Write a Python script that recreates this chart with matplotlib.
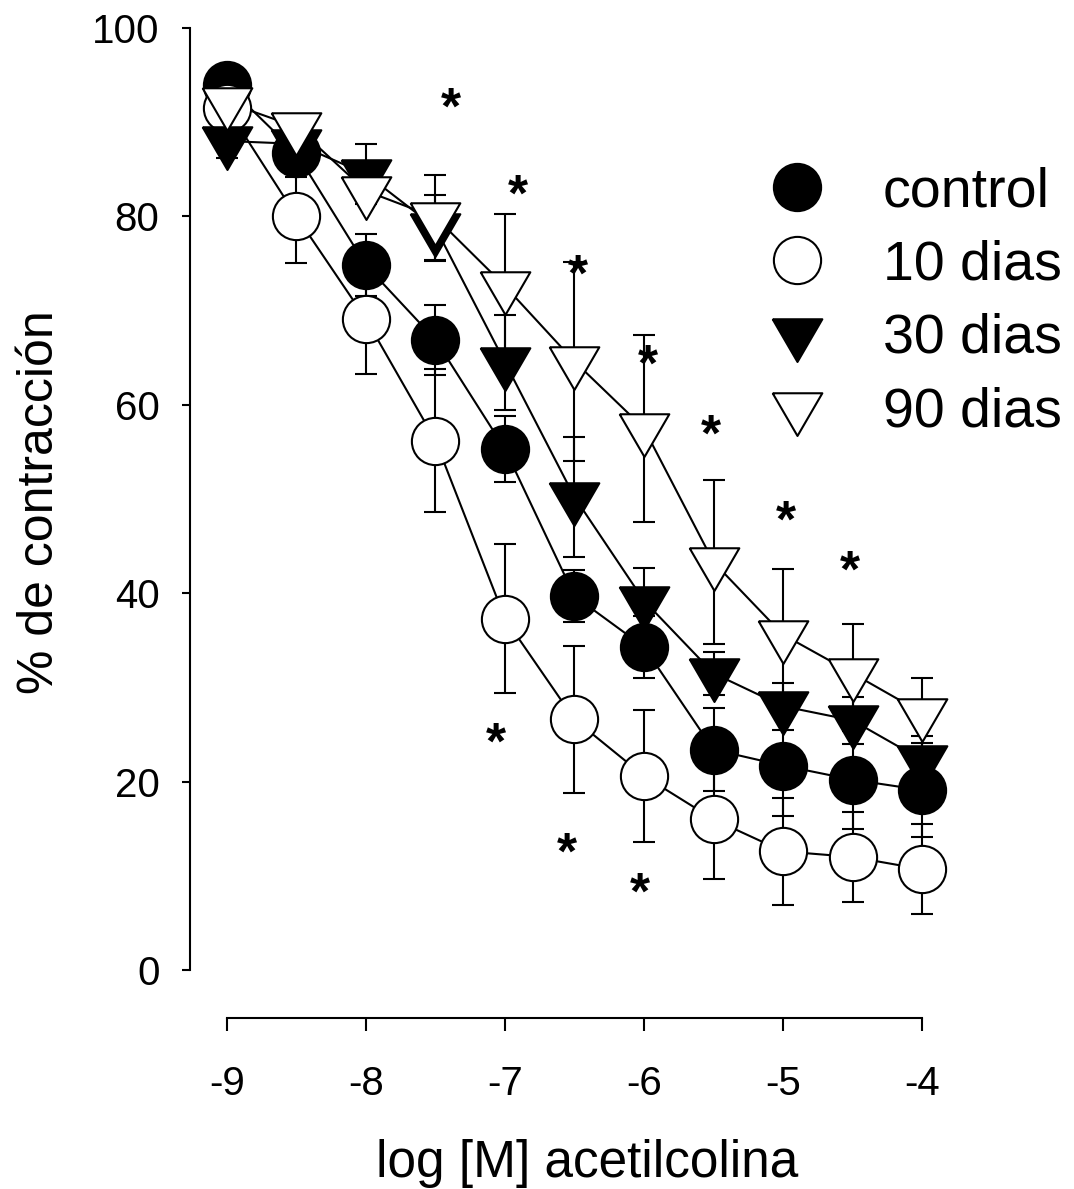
import numpy as np
import matplotlib
matplotlib.use("Agg")
from matplotlib import pyplot as plt
from matplotlib.lines import Line2D

plt.rcParams['font.family'] = ['Liberation Sans', 'DejaVu Sans']

# log [M] acetilcolina
log_conc = [-9, -8.5, -8, -7.5, -7, -6.5, -6, -5.5, -5, -4.5, -4]

control = [93.9, 86.7, 74.8, 66.9, 55.3, 39.7, 34.3, 23.4, 21.7, 20.2, 19.1]
control_err = [1.0, 2.5, 3.3, 3.7, 3.5, 2.8, 3.3, 4.4, 5.4, 5.2, 5.0]

dias10 = [91.5, 80.0, 69.1, 56.2, 37.3, 26.6, 20.6, 16.0, 12.6, 12.0, 10.7]
dias10_err = [1.9, 5.0, 5.8, 7.6, 7.9, 7.8, 7.0, 6.3, 5.7, 4.8, 4.8]

dias30 = [88.0, 87.7, 84.5, 78.8, 64.5, 50.2, 39.2, 31.5, 28.0, 26.5, 22.3]
dias30_err = [1.8, 1.5, 3.2, 3.5, 5.0, 6.4, 3.5, 2.3, 2.5, 2.5, 2.5]

dias90 = [92.1, 89.5, 82.7, 79.9, 72.6, 64.6, 57.5, 43.3, 35.6, 31.5, 27.3]
dias90_err = [1.0, 1.0, 1.0, 4.5, 7.7, 10.6, 9.9, 8.7, 7.0, 5.2, 3.7]

labels = ['control', '10 dias', '30 dias', '90 dias']

# significance marks (*)
star_x = [-7.39, -6.91, -6.475, -5.97, -5.52, -4.98, -4.52, -7.065, -6.554, -6.03]
star_y = [92.4, 83.2, 74.7, 65.1, 57.7, 48.6, 43.3, 25.0, 13.3, 9.1]

# down triangle with its centroid at the origin (SigmaPlot style)
h = 1.72
tri_down = [(-1, h / 3), (1, h / 3), (0, -2 * h / 3), (-1, h / 3)]

series = [
    (control, control_err, 'o', 'black', 34),
    (dias10, dias10_err, 'o', 'white', 34),
    (dias30, dias30_err, tri_down, 'black', 41),
    (dias90, dias90_err, tri_down, 'white', 41),
]

fig = plt.figure(figsize=(10.74, 11.89), dpi=100)
ax = fig.add_axes([0.1769, 0.1438, 0.7542, 0.8394])

# lines and error bars behind every marker
for vals, errs, mk, fc, ms in series:
    ax.errorbar(log_conc, vals, yerr=errs, fmt='none', ecolor='black',
                elinewidth=1.5, capsize=8, capthick=1.5, zorder=1)
    ax.plot(log_conc, vals, '-', color='black', lw=1.5, zorder=1)

for i, (vals, errs, mk, fc, ms) in enumerate(series):
    ax.plot(log_conc, vals, linestyle='none', marker=mk, markersize=ms,
            markerfacecolor=fc, markeredgecolor='black', markeredgewidth=1.5,
            zorder=3 + i)

for sx, sy in zip(star_x, star_y):
    ax.annotate('*', (sx, sy), xytext=(0, -17.5), textcoords='offset points',
                ha='center', va='baseline', fontsize=37, fontweight='bold')

ax.set_xlim(-9.266, -3.439)
ax.set_ylim(-5.096, 100.85)

ax.spines['top'].set_visible(False)
ax.spines['right'].set_visible(False)
ax.spines['left'].set_bounds(0, 100)
ax.spines['bottom'].set_bounds(-9, -4)
ax.spines['left'].set_linewidth(1.5)
ax.spines['bottom'].set_linewidth(1.5)

ax.set_xticks([-9, -8, -7, -6, -5, -4])
ax.set_xticklabels(['-9', '-8', '-7', '-6', '-5', '-4'])
ax.set_yticks([0, 20, 40, 60, 80, 100])
ax.tick_params(axis='x', direction='out', length=9.5, width=1.5, pad=24, labelsize=29)
ax.tick_params(axis='y', direction='out', length=6, width=1.5, pad=16, labelsize=29)

ax.set_xlabel('log [M] acetilcolina', fontsize=37)
ax.set_ylabel('% de contracción', fontsize=36)
ax.xaxis.set_label_coords(0.490, -0.1453)
ax.xaxis.label.set_va('center')
ax.yaxis.set_label_coords(-0.1855, 0.517)
ax.yaxis.label.set_va('center')

handles = [Line2D([], [], linestyle='none', marker=mk, markersize=ms,
                  markerfacecolor=fc, markeredgecolor='black', markeredgewidth=1.5)
           for vals, errs, mk, fc, ms in series]
ax.legend(handles, labels, loc='upper left', bbox_to_anchor=(0.715, 0.853),
          frameon=False, fontsize=40, handlelength=1.0, handletextpad=1.05,
          labelspacing=0.38, borderpad=0, borderaxespad=0)

fig.savefig('out.png', dpi=100)
